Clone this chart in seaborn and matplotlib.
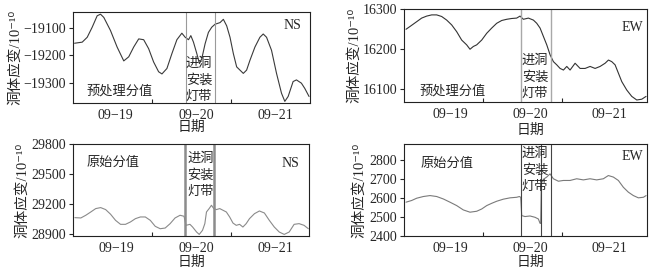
import matplotlib
matplotlib.use('Agg')
import matplotlib.pyplot as plt
import seaborn as sns

# 时间：各图起点之后的小时数
ns_pre_hours = [0.48, 2.80, 4.32, 5.83, 7.34, 8.35, 9.36, 11.38, 13.40, 15.42, 16.93, 18.44,
                19.96, 21.47, 22.98, 24.49, 26.01, 27.02, 28.53, 30.05, 31.56, 33.07, 34.08,
                35.09, 35.80, 36.60, 37.61, 38.42, 39.12, 40.13, 41.14, 42.15, 43.16, 44.67,
                45.68, 46.69, 47.70, 48.71, 49.72, 50.73, 51.74, 52.74, 53.75, 55.27, 56.78,
                57.79, 58.80, 60.31, 61.83, 63.34, 64.35, 65.36, 66.87, 67.88, 69.39, 70.40, 71.71]
ns_pre_vals = [-19155, -19151, -19133, -19096, -19054, -19048, -19060, -19108, -19169, -19220,
               -19205, -19169, -19139, -19142, -19175, -19224, -19260, -19268, -19248, -19193,
               -19142, -19118, -19133, -19142, -19127, -19151, -19193, -19230, -19212, -19157,
               -19115, -19096, -19085, -19079, -19067, -19091, -19133, -19193, -19242, -19254,
               -19266, -19254, -19218, -19169, -19133, -19121, -19133, -19181, -19266, -19339,
               -19369, -19351, -19296, -19290, -19302, -19321, -19351]

ew_pre_hours = [0.52, 1.74, 2.76, 3.78, 5.30, 6.83, 8.36, 9.88, 11.41, 12.94, 14.46, 15.99,
                17.52, 19.04, 20.06, 21.08, 22.10, 23.63, 25.16, 26.68, 28.21, 29.74, 31.26,
                32.79, 34.31, 35.33, 36.35, 37.88, 39.41, 40.43, 41.45, 42.47, 43.49, 44.51,
                45.52, 46.54, 47.56, 48.58, 49.60, 50.61, 52.14, 53.67, 55.19, 56.72, 58.25,
                59.77, 61.30, 62.32, 63.33, 64.35, 65.37, 66.39, 67.91, 69.44, 70.97, 72.49, 73.80]
ew_pre_vals = [16250, 16257, 16263, 16269, 16278, 16283, 16286, 16286, 16282, 16273, 16261,
               16244, 16223, 16211, 16200, 16207, 16211, 16223, 16240, 16253, 16265, 16272,
               16275, 16277, 16278, 16283, 16275, 16278, 16273, 16265, 16253, 16232, 16211,
               16186, 16169, 16161, 16152, 16148, 16157, 16148, 16165, 16152, 16152, 16157,
               16152, 16157, 16165, 16173, 16169, 16161, 16140, 16119, 16098, 16082, 16073,
               16075, 16082]

ns_raw_hours = [0.48, 2.30, 3.81, 5.33, 6.84, 8.35, 9.87, 11.38, 12.89, 14.41, 15.92, 17.44,
                18.95, 20.46, 21.97, 23.49, 25.00, 26.51, 28.03, 29.54, 31.05, 32.57, 33.78,
                34.38, 35.59, 36.40, 37.61, 38.42, 39.42, 40.13, 40.63, 41.44, 42.15, 42.86,
                43.66, 44.67, 45.68, 46.69, 47.70, 48.71, 49.72, 50.73, 51.74, 52.74, 53.75,
                55.27, 56.78, 58.29, 59.80, 61.32, 62.83, 64.35, 65.86, 67.37, 68.88, 70.40, 71.71]
ns_raw_vals = [29061, 29058, 29085, 29118, 29152, 29162, 29142, 29095, 29034, 28994, 28994,
               29018, 29051, 29068, 29068, 29034, 28974, 28950, 28957, 29001, 29058, 29085,
               29075, 28984, 28994, 28967, 28917, 28893, 28934, 29001, 29118, 29152, 29185,
               29152, 29142, 29152, 29135, 29118, 29068, 29007, 28984, 28994, 28967, 29001,
               29051, 29101, 29128, 29108, 29034, 28967, 28917, 28893, 28917, 28994, 29001,
               28984, 28950]

ew_raw_hours = [0.52, 2.25, 3.78, 5.81, 7.85, 9.88, 11.92, 13.95, 15.99, 18.02, 20.06, 22.10,
                23.63, 25.16, 26.68, 28.21, 30.24, 32.28, 34.31, 35.13, 35.54, 35.84, 36.86,
                38.38, 39.91, 40.93, 41.44, 41.64, 41.84, 42.45, 43.47, 44.49, 45.51, 47.04,
                48.56, 50.60, 52.63, 54.67, 56.70, 58.73, 60.77, 62.29, 63.82, 65.35, 66.87,
                68.40, 69.93, 71.46, 73.00, 73.81]
ew_raw_vals = [2579, 2588, 2600, 2609, 2614, 2609, 2596, 2579, 2561, 2538, 2526, 2531, 2543,
               2561, 2573, 2584, 2595, 2602, 2605, 2609, 2605, 2508, 2503, 2506, 2499, 2490,
               2467, 2467, 2680, 2700, 2712, 2729, 2703, 2690, 2694, 2694, 2703, 2697, 2703,
               2697, 2703, 2720, 2712, 2694, 2658, 2632, 2614, 2602, 2605, 2614]

date_labels = ['09−19', '09−20', '09−21']
day_ticks_left = [13, 37.5, 61.5]
day_ticks_right = [14, 38.5, 62.5]
install_left = [34.2, 43.0]
install_right = [35.5, 44.7]
install_ew_raw = [35.5, 41.6, 44.7]

W, H = 659, 273


def rect(l, t, r, b):
    return [l / W, 1 - b / H, (r - l) / W, (b - t) / H]


def draw_panel(ax, hours, vals, color, vlines, vstyle, ylim, yticks, xlim, day_ticks,
               tag, tag_xy, name, name_xy, inst_xy, ylab_x, xlab_x, xlab_y):
    sns.lineplot(x=hours, y=vals, ax=ax, color=color, linewidth=0.8,
                 estimator=None, sort=False)
    for v in vlines:
        ax.axvline(v, **vstyle)
    ax.set_xlim(*xlim)
    ax.set_ylim(*ylim)
    ax.set_yticks(yticks)
    ax.set_xticks(day_ticks)
    ax.set_xticklabels(date_labels)
    ax.set_xticks([24, 48], minor=True)
    ax.tick_params(axis='x', which='major', length=0, pad=4, labelsize=10)
    ax.tick_params(axis='x', which='minor', direction='in', length=3, width=0.8)
    ax.tick_params(axis='y', direction='out', length=3, width=0.8, pad=2, labelsize=10)
    for s in ax.spines.values():
        s.set_linewidth(0.8)
        s.set_color('#222222')
        s.set_visible(True)
    ax.set_xlabel('日期', fontsize=10)
    ax.set_ylabel('洞体应变/10⁻¹⁰', fontsize=10.5)
    ax.yaxis.set_label_coords(ylab_x, 0.5)
    ax.xaxis.set_label_coords(xlab_x, xlab_y)
    ax.text(*tag_xy, tag, transform=ax.transAxes, ha='center', va='center', fontsize=10)
    ax.text(*name_xy, name, transform=ax.transAxes, ha='center', va='center', fontsize=9.5)
    ax.text(*inst_xy, '进洞\n安装\n灯带', transform=ax.transAxes, ha='center', va='center',
            fontsize=9.5, linespacing=1.45)


sns.set_style('ticks')
plt.rcParams['font.family'] = ['Liberation Serif', 'Noto Sans CJK SC', 'DejaVu Sans']
plt.rcParams['axes.unicode_minus'] = True

fig = plt.figure(figsize=(6.59, 2.73), dpi=100)

ax1 = fig.add_axes(rect(73, 12, 310, 103))
draw_panel(ax1, ns_pre_hours, ns_pre_vals, '#3a3a3a', install_left,
           dict(color='#9a9a9a', lw=0.8), (-19375, -19040), [-19100, -19200, -19300],
           (0, 72), day_ticks_left, 'NS', (0.924, 0.857), '预处理分值', (0.198, 0.132),
           (0.532, 0.253), -0.215, 0.5, -0.2)

ax2 = fig.add_axes(rect(404.3, 9.3, 646.7, 102))
draw_panel(ax2, ew_pre_hours, ew_pre_vals, '#333333', install_right,
           dict(color='#a8a8a8', lw=1.0), (16068, 16300), [16100, 16200, 16300],
           (0, 74), day_ticks_right, 'EW', (0.939, 0.809), '预处理分值', (0.2, 0.119),
           (0.539, 0.27), -0.176, 0.52, -0.23)

ax3 = fig.add_axes(rect(73.3, 144, 309.3, 236))
draw_panel(ax3, ns_raw_hours, ns_raw_vals, '#8a8a8a', install_left,
           dict(color='#8c8c8c', lw=1.8), (28877, 29800), [28900, 29200, 29500, 29800],
           (0, 72), day_ticks_left, 'NS', (0.92, 0.793), '原始分值', (0.169, 0.793),
           (0.538, 0.663), -0.188, 0.5, -0.217)

ax4 = fig.add_axes(rect(404.3, 144, 646.7, 236))
draw_panel(ax4, ew_raw_hours, ew_raw_vals, '#7a7a7a', install_ew_raw,
           dict(color='#444444', lw=0.8), (2400, 2887), [2400, 2500, 2600, 2700, 2800],
           (0, 74), day_ticks_right, 'EW', (0.939, 0.859), '原始分值', (0.176, 0.783),
           (0.539, 0.717), -0.155, 0.52, -0.217)

fig.savefig('out.png', dpi=100)
